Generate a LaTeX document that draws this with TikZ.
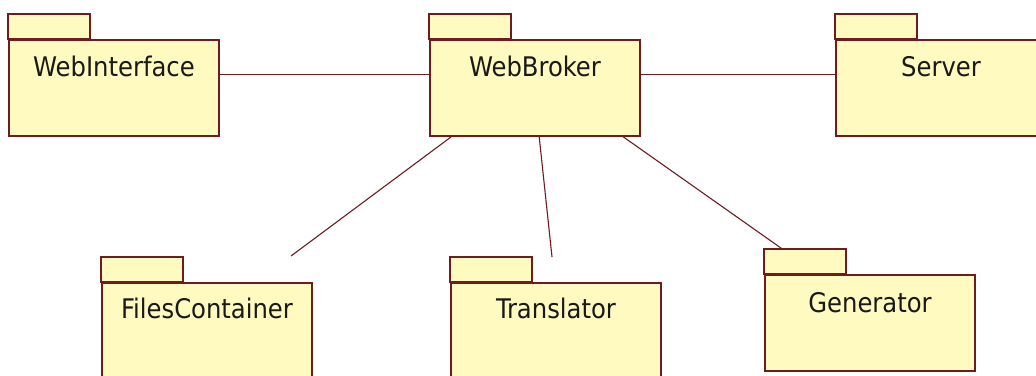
\documentclass[tikz,border=0pt]{standalone}
\usepackage{fontspec}
\setmainfont{DejaVu Sans Condensed}
\usetikzlibrary{calc}
\definecolor{pkgline}{RGB}{110,28,32}
\definecolor{pkgfill}{RGB}{255,250,192}
\tikzset{
  pkg/.style={draw=pkgline, fill=pkgfill, line width=1.6pt, inner sep=0pt,
    minimum width=210pt, minimum height=96pt},
  pkgtab/.style={draw=pkgline, fill=pkgfill, line width=1.6pt},
  pkgname/.style={anchor=base, inner sep=0pt, font=\fontsize{27}{30}\selectfont, text=black!90},
  assoc/.style={draw=pkgline, line width=1.1pt}
}
% draws a package: tab on top-left of the body, name near the top
\newcommand{\umlpkg}[4]{% name, centre, label, baseline offset from top
  \node[pkg] (#1) at (#2) {};
  \draw[pkgtab] (#1.north west) rectangle ++(82,-25);
  \node[pkgname] (#1-name) at ($(#1.north)+(0,#4)$) {#3};
}
\begin{document}
\begin{tikzpicture}[x=1pt, y=-1pt]
  \clip (0,0) rectangle (1036,375);
  \fill[white] (0,0) rectangle (1036,375);

  \umlpkg{wi}{114,88}{WebInterface}{37}
  \umlpkg{wb}{535,88}{WebBroker}{37}
  \umlpkg{sv}{941,88}{Server}{37}
  \umlpkg{fc}{207,331}{FilesContainer}{36}
  \umlpkg{tr}{556,331}{Translator}{36}
  \umlpkg{gn}{870,323}{Generator}{38}

  % free ends of the two shorter associations
  \coordinate (fcend) at (291,256);
  \coordinate (trend) at (552,257);

  \draw[assoc] ($(wi.north east)+(0,35)$) -- ($(wb.north west)+(0,35)$);
  \draw[assoc] ($(wb.north east)+(0,35)$) -- ($(sv.north west)+(0,35)$);
  \draw[assoc] ($(wb.south west)+(22,0)$) -- (fcend);
  \draw[assoc] ($(wb.south west)+(110,0)$) -- (trend);
  \draw[assoc] ($(wb.south west)+(194,0)$) -- ($(gn.north west)+(17,-26)$);
\end{tikzpicture}
\end{document}
